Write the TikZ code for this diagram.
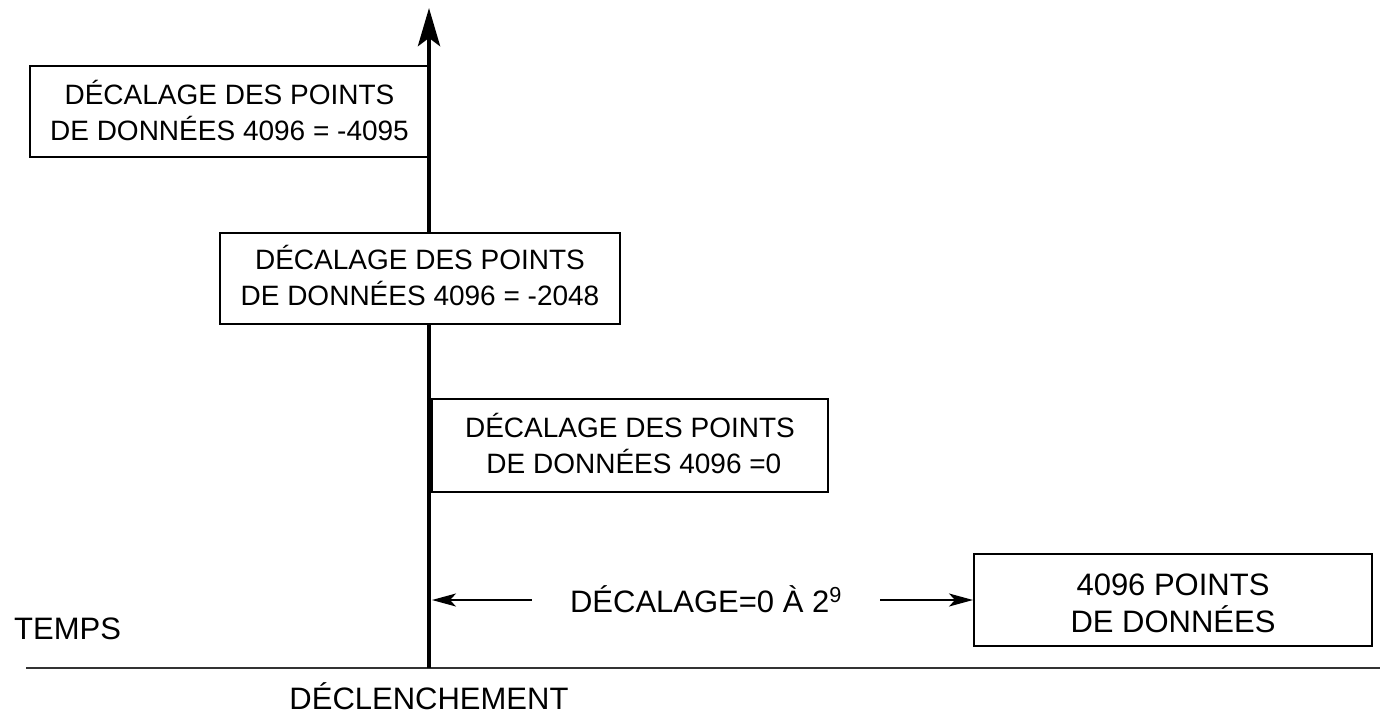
\documentclass[tikz,border=0pt]{standalone}
\usepackage{fontspec}
\setmainfont{Liberation Sans}
\usetikzlibrary{arrows.meta}
\begin{document}
\begin{tikzpicture}[x=1pt,y=-1pt,
  box/.style={draw, line width=2pt, fill=white, minimum width=400pt, minimum height=91pt,
    inner sep=0pt, align=center, text height=58pt, text depth=1pt,
    font=\fontsize{28}{36}\selectfont},
  bigbox/.style={box, minimum width=398pt, minimum height=92pt, text height=65pt, text depth=1pt,
    font=\fontsize{31}{37}\selectfont},
  lbl/.style={inner sep=0pt, font=\fontsize{31}{37}\selectfont},
  axisline/.style={line width=4.8pt, -{Stealth[length=38pt, width=22pt, inset=8pt]}},
  smallarrow/.style={line width=1.8pt, -{Stealth[length=24pt, width=13pt, inset=6pt]}}
]
\useasboundingbox (0,0) rectangle (1380,713);
% time line
\coordinate (tl) at (26,668);
\coordinate (tr) at (1380,668);
\draw[line width=2.5pt, black!80] (tl) -- (tr);
% trigger axis
\coordinate (o) at (429,668);
\coordinate (top) at (429,8);
\draw[axisline] (o) -- (top);
% boxes
\node[box] (b1) at (229.5,111.5) {DÉCALAGE DES POINTS\\DE DONNÉES 4096 = -4095};
\node[box, text height=56pt] (b2) at (420,278) {DÉCALAGE DES POINTS\\DE DONNÉES 4096 = -2048};
\node[box, minimum width=396pt, minimum height=93pt] (b3) at (630,445) {DÉCALAGE DES POINTS\\\ DE DONNÉES 4096 =0};
\node[bigbox] (b4) at (1173,600) {4096 POINTS\\DE DONNÉES};
% redraw axis segment over box edges
\draw[line width=4.8pt] (b2.south -| o) -- (o);
\draw[line width=4.8pt] (b1.north -| o) -- (b2.north -| o);
% labels
\node[lbl, anchor=base west] (temps) at (14,639) {TEMPS};
\node[lbl, anchor=base] (decl) at (429,709) {DÉCLENCHEMENT};
\node[lbl, anchor=base, inner xsep=38pt] (dec) at (706,612) {DÉCALAGE=0 À 2\textsuperscript{9}};
\coordinate (hit) at (432,600);
\draw[smallarrow] (dec.west |- hit) -- (hit);
\draw[smallarrow] (dec.east |- hit) -- (b4.west |- hit);
\end{tikzpicture}
\end{document}
